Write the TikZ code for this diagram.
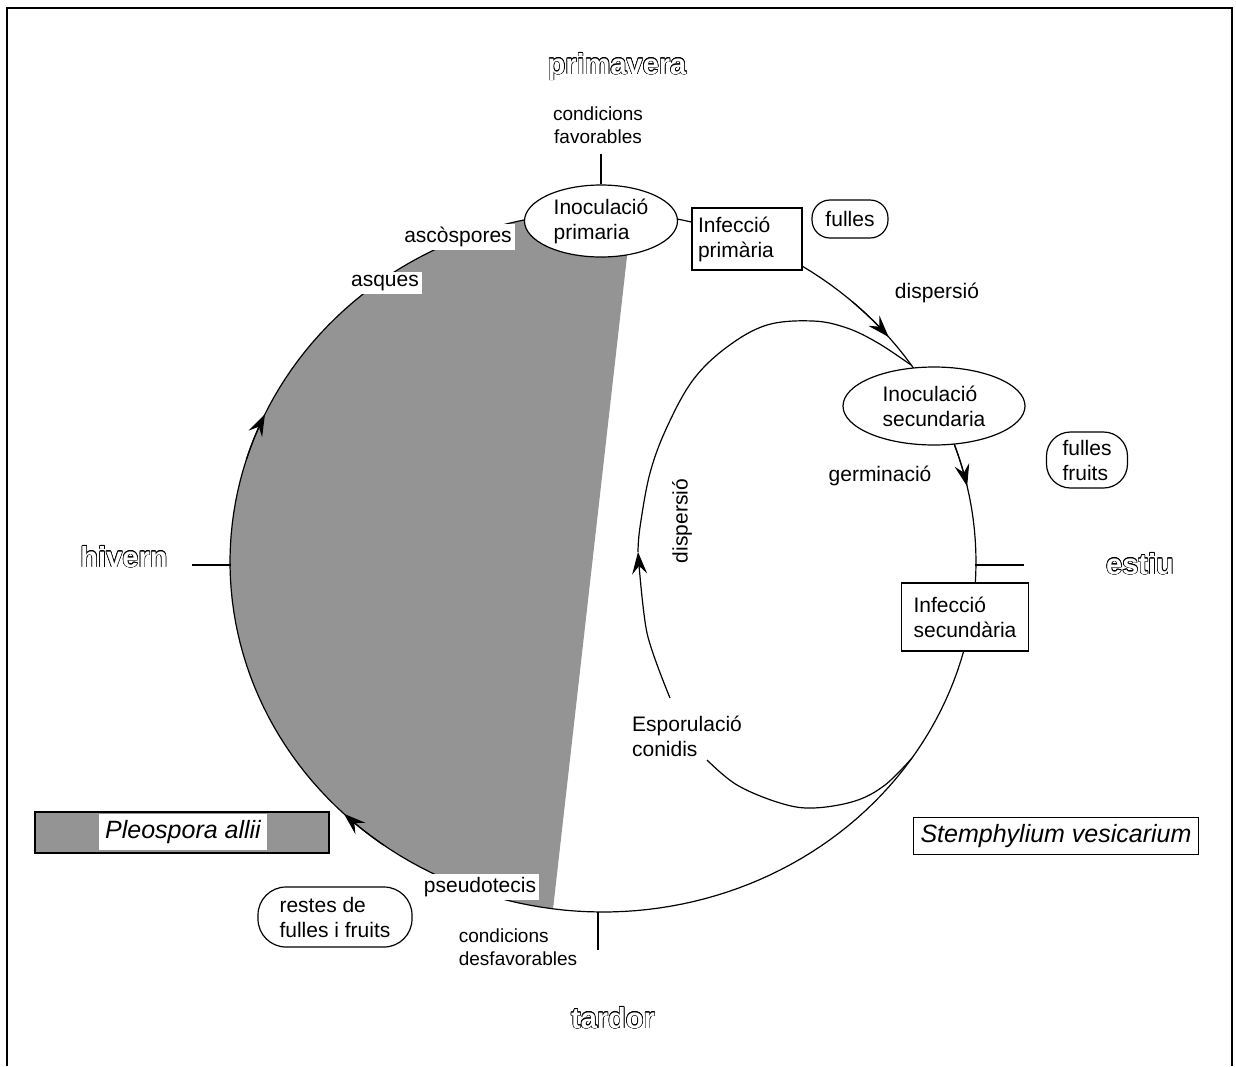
\documentclass[tikz,border=0pt]{standalone}
\usepackage{fontspec}
\setmainfont{Liberation Sans}
\usepackage{contour}
\usetikzlibrary{arrows.meta, shapes.geometric, positioning}
\definecolor{halftone}{gray}{0.58}
\contourlength{0.3pt}

\begin{document}
\begin{tikzpicture}[x=0.5pt, y=-0.5pt, line width=0.6pt,
    every node/.style={font=\fontsize{10.5}{12.5}\selectfont},
    blk/.style={draw, fill=white, align=left, inner sep=3pt},
    oval/.style={draw, fill=white, ellipse, align=left, inner sep=0pt},
    pill/.style={draw, fill=white, rounded corners=9pt, align=left, inner sep=3pt},
    onwhite/.style={fill=white, inner sep=1.5pt},
    lbl/.style={align=center},
    season/.style={font=\fontsize{14.5}{16}\selectfont\bfseries},
    species/.style={font=\fontsize{12.5}{14}\selectfont\itshape},
    arr/.style={-{Stealth[length=11pt, width=7.5pt, inset=4pt]}}
]
\useasboundingbox (0,0) rectangle (1236,1066);
\draw[line width=0.8pt] (7,1066) -- (7,8) -- (1232,8) -- (1232,1066);

% shaded sexual phase
\fill[halftone] plot[domain=97.7:275, samples=80, variable=\t] ({603+373*cos(\t)}, {562+350*sin(\t)}) -- (630,230) -- cycle;

% yearly cycle
\draw plot[domain=0:360, samples=200, variable=\t] ({603+373*cos(\t)}, {562+350*sin(\t)}) -- cycle;
\draw[arr] plot[domain=126:134, samples=10, variable=\t] ({603+373*cos(\t)}, {562+350*sin(\t)});
\draw[arr] plot[domain=197:205, samples=10, variable=\t] ({603+373*cos(\t)}, {562+350*sin(\t)});
\draw[arr] plot[domain=312:320, samples=10, variable=\t] ({603+373*cos(\t)}, {562+350*sin(\t)});
\draw[arr] plot[domain=339:347.5, samples=10, variable=\t] ({603+373*cos(\t)}, {562+350*sin(\t)});

% secondary loop
\coordinate (j1) at (911,365);
\coordinate (j2) at (912,758);
\coordinate (sporeA) at (670,698);
\coordinate (sporeB) at (707,760);
\coordinate (tipL) at (638,552);
\draw[arr] plot[smooth] coordinates {(sporeA) (647,633) (tipL)};
\draw plot[smooth, tension=0.6] coordinates {(tipL) (640,527) (650,473) (667,427) (693,380) (727,347) (767,325) (813,321) (847,328) (878,343) (j1)};
\draw plot[smooth, tension=0.6] coordinates {(sporeB) (737,785) (780,803) (813,808) (855,801) (885,785) (j2)};

% seasons
\node[season] (spring) at (617,67) {\textcolor{white}{\contour{black}{primavera}}};
\node[season] (summer) at (1140,564) {\textcolor{white}{\contour{black}{estiu}}};
\node[season] (autumn) at (613,1018) {\textcolor{white}{\contour{black}{tardor}}};
\node[season] (winter) at (124,557) {\textcolor{white}{\contour{black}{hivern}}};

% stages
\node[oval, minimum width=76.5pt, minimum height=36pt] (ino1) at (601,221) {Inoculació\\primaria};
\node[blk, text width=49pt, minimum height=31pt] (inf1) at (747,239) {Infecció\\primària};
\node[pill, minimum width=38pt, minimum height=19pt] (leaf1) at (850,219) {fulles};
\node[oval, minimum width=91pt, minimum height=39pt] (ino2) at (934,406) {Inoculació\\secundaria};
\node[pill, minimum width=40.5pt, minimum height=28pt, rounded corners=12pt] (leaf2) at (1087,460) {fulles\\fruits};
\node[blk, inner sep=6pt, minimum height=34pt] (inf2) at (965,617) {Infecció\\secundària};
\node[pill, minimum width=77pt, minimum height=30pt, rounded corners=14pt] (rest) at (335,917) {restes de\\fulles i fruits};

\node[lbl] (disp1) at (937,293) {dispersió};
\node[lbl] (germ) at (880,476) {germinació};
\node[lbl, rotate=90] (disp2) at (682,521) {dispersió};
\node[align=left] (spor) at (687,736) {Esporulació\\conidis};
\node[onwhite] (asco) at (458,237) {ascòspores};
\node[onwhite] (asq) at (385,283) {asques};
\node[onwhite] (pseudo) at (480,887) {pseudotecis};
\node[lbl, font=\fontsize{9.5}{11.5}\selectfont] (fav) at (598,125) {condicions\\favorables};
\node[align=left, font=\fontsize{9.5}{11.5}\selectfont] (desfav) at (518,947) {condicions\\desfavorables};

% ticks
\draw (ino1.north) -- ++(0,-30);
\draw (598,912) -- ++(0,38);
\draw (231,565) -- ++(-39,0);
\draw (975,565) -- ++(49,0);

% species
\draw[fill=halftone] (35,812) rectangle (329,853);
\node[species, fill=white, inner sep=3pt] (pleo) at (183,832) {Pleospora allii};
\node[species, draw, fill=white, inner sep=3.5pt] (stem) at (1056,836) {Stemphylium vesicarium};
\end{tikzpicture}
\end{document}
